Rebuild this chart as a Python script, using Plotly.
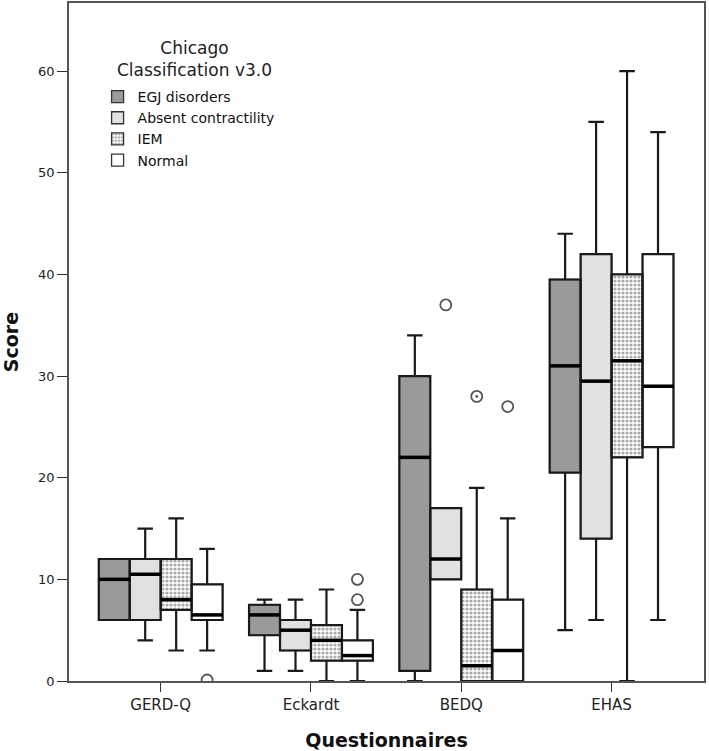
import plotly.graph_objects as go

categories = ["GERD-Q", "Eckardt", "BEDQ", "EHAS"]
series_names = ["EGJ disorders", "Absent contractility", "IEM", "Normal"]

egj_lower = [6, 1, 0, 5]
egj_q1 = [6, 4.5, 1, 20.5]
egj_median = [10, 6.5, 22, 31]
egj_q3 = [12, 7.5, 30, 39.5]
egj_upper = [12, 8, 34, 44]

absent_lower = [4, 1, 10, 6]
absent_q1 = [6, 3, 10, 14]
absent_median = [10.5, 5, 12, 29.5]
absent_q3 = [12, 6, 17, 42]
absent_upper = [15, 8, 17, 55]

iem_lower = [3, 0, 0, 0]
iem_q1 = [7, 2, 0, 22]
iem_median = [8, 4, 1.5, 31.5]
iem_q3 = [12, 5.5, 9, 40]
iem_upper = [16, 9, 19, 60]

normal_lower = [3, 0, 0, 6]
normal_q1 = [6, 2, 0, 23]
normal_median = [6.5, 2.5, 3, 29]
normal_q3 = [9.5, 4, 8, 42]
normal_upper = [13, 7, 16, 54]

# outliers: (category, series, value)
outlier_cat = ["GERD-Q", "Eckardt", "Eckardt", "BEDQ", "BEDQ", "BEDQ"]
outlier_series = ["Normal", "Normal", "Normal", "Absent contractility", "IEM", "Normal"]
outlier_val = [0.1, 10, 8, 37, 28, 27]

y_ticks = [0, 10, 20, 30, 40, 50, 60]
legend_title = "Chicago<br>Classification v3.0"

stats = [
    (egj_lower, egj_q1, egj_median, egj_q3, egj_upper),
    (absent_lower, absent_q1, absent_median, absent_q3, absent_upper),
    (iem_lower, iem_q1, iem_median, iem_q3, iem_upper),
    (normal_lower, normal_q1, normal_median, normal_q3, normal_upper),
]
fills = ["#9a9a9a", "#e1e1e1", "#ffffff", "#ffffff"]
patterns = ["", "", ".", ""]

W = 0.206
FONT = "DejaVu Sans"

fig = go.Figure()

def pos(ci, si):
    return ci + (si - 1.5) * W

for si, name in enumerate(series_names):
    lo, q1, med, q3, up = stats[si]
    xs = [pos(ci, si) for ci in range(len(categories))]
    fig.add_trace(go.Bar(
        x=xs, base=q1, y=[b - a for a, b in zip(q1, q3)], width=W,
        name=name, legendgroup=name,
        marker=dict(color=fills[si], line=dict(color="#333333", width=1.3),
                    pattern=dict(shape=patterns[si], fgcolor="#555555", bgcolor="#ffffff",
                                 size=4, solidity=0.5, fillmode="overlay")),
        hoverinfo="skip",
    ))
    fig.add_trace(go.Box(
        x=xs, q1=q1, median=med, q3=q3, lowerfence=lo, upperfence=up,
        width=W, whiskerwidth=0.5, boxpoints=False,
        fillcolor="rgba(0,0,0,0)", line=dict(color="#1a1a1a", width=2.2),
        showlegend=False, legendgroup=name, name=name,
    ))
    mx, my = [], []
    for ci in range(len(categories)):
        c = pos(ci, si)
        mx += [c - W / 2, c + W / 2, None]
        my += [med[ci], med[ci], None]
    fig.add_trace(go.Scatter(x=mx, y=my, mode="lines", line=dict(color="#000000", width=3.5),
                             showlegend=False, hoverinfo="skip"))

ox = [pos(categories.index(c), series_names.index(s)) for c, s in zip(outlier_cat, outlier_series)]
symbols = ["circle-open-dot" if s == "IEM" else "circle-open" for s in outlier_series]
fig.add_trace(go.Scatter(x=ox, y=outlier_val, mode="markers", showlegend=False,
                         marker=dict(symbol=symbols, size=11, color="#555555",
                                     line=dict(width=1.8, color="#555555"))))

fig.update_layout(
    width=709, height=751,
    margin=dict(l=69, r=5, t=3, b=70),
    paper_bgcolor="white", plot_bgcolor="white",
    barmode="overlay",
    font=dict(family=FONT, color="#222222"),
    legend=dict(
        x=0.045, y=0.885, xanchor="left", yanchor="top",
        bgcolor="rgba(0,0,0,0)",
        font=dict(family=FONT, size=14, color="#111111"),
        tracegroupgap=0,
    ),
    annotations=[dict(
        text=legend_title, xref="paper", yref="paper", x=0.198, y=0.952,
        xanchor="center", yanchor="top", align="center", showarrow=False,
        font=dict(family=FONT, size=17, color="#222222"),
    )],
    xaxis=dict(
        range=[-0.61, 3.615], tickmode="array", tickvals=list(range(len(categories))),
        ticktext=categories, ticks="outside", ticklen=9, tickcolor="#333333",
        showline=True, mirror=True, linecolor="#555555", linewidth=1.5,
        showgrid=False, zeroline=False, automargin=False,
        tickfont=dict(family=FONT, size=15, color="#222222"),
        title=dict(text="<b>Questionnaires</b>", font=dict(family=FONT, size=19, color="#111111"),
                   standoff=24),
    ),
    yaxis=dict(
        range=[0, 66.7], tickmode="array", tickvals=y_ticks,
        ticks="outside", ticklen=10, tickcolor="#333333",
        showline=True, mirror=True, linecolor="#555555", linewidth=1.5,
        showgrid=False, zeroline=False, automargin=False,
        tickfont=dict(family=FONT, size=13, color="#222222"),
        title=dict(text="<b>Score</b>", font=dict(family=FONT, size=19, color="#111111"),
                   standoff=14),
    ),
)

fig.write_html("out.html", config={"displayModeBar": False},
               post_script="document.body.style.margin='0';")
